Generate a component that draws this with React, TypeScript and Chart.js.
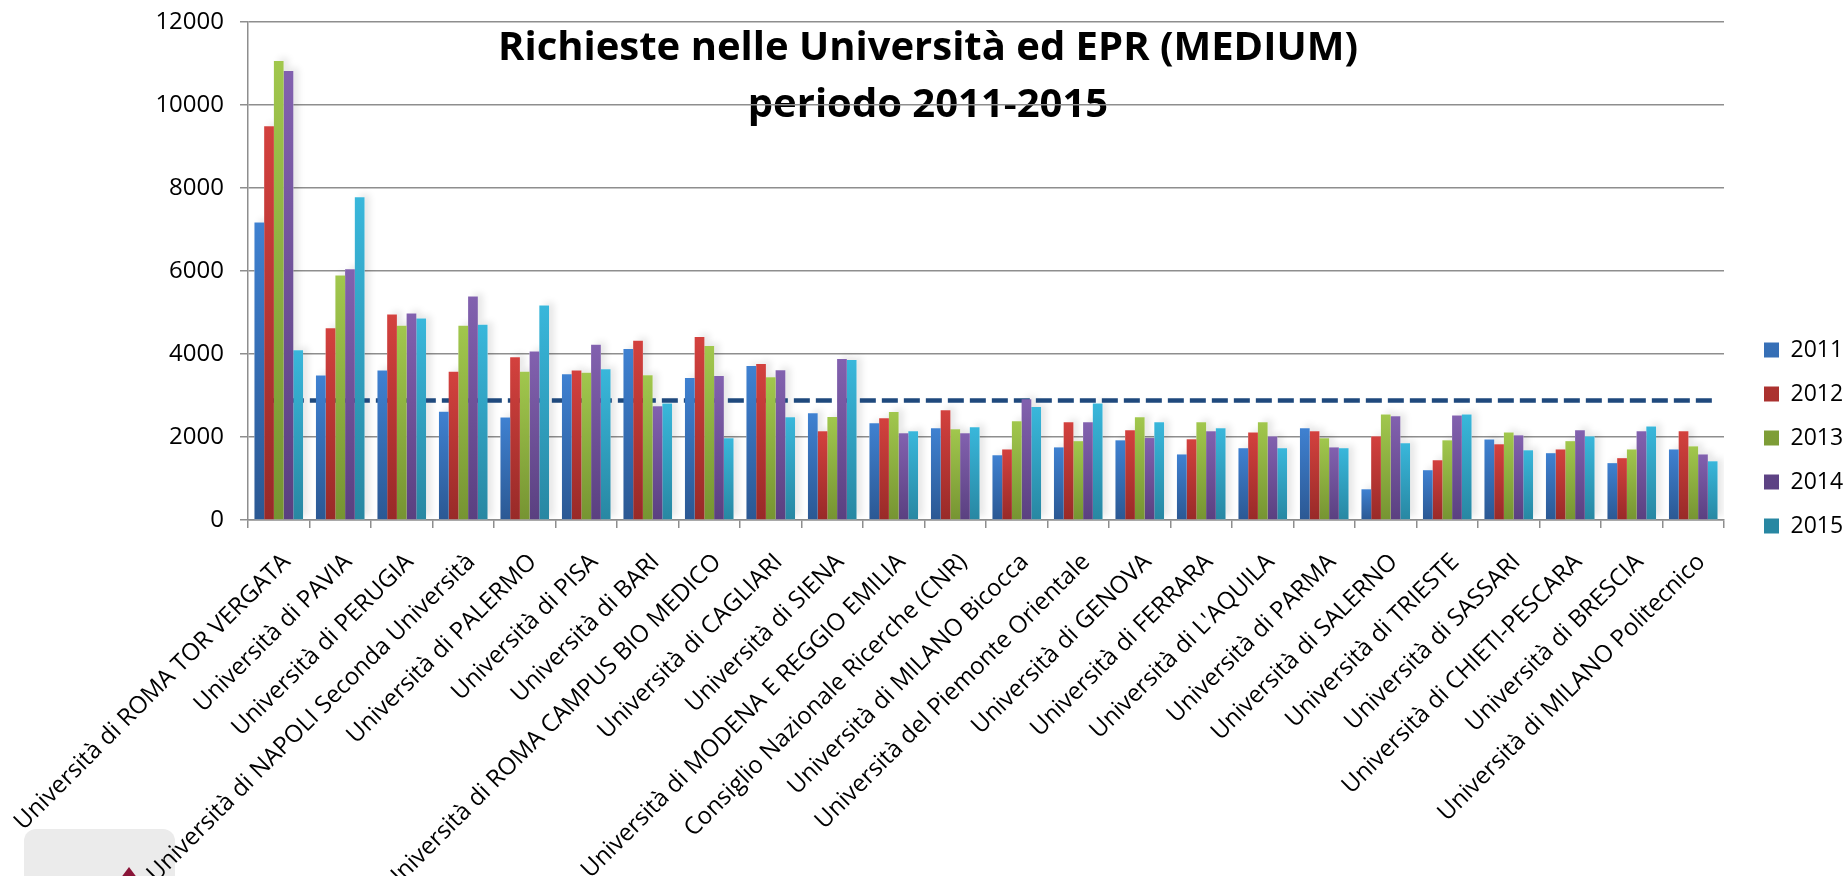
import React, { useEffect, useRef } from 'react';
import { Chart, registerables } from 'chart.js';

Chart.register(...registerables);

const CATEGORIES = [
  'Università di ROMA TOR VERGATA',
  'Università di PAVIA',
  'Università di PERUGIA',
  'Università di NAPOLI Seconda Università',
  'Università di PALERMO',
  'Università di PISA',
  'Università di BARI',
  'Università di ROMA CAMPUS BIO MEDICO',
  'Università di CAGLIARI',
  'Università di SIENA',
  'Università di MODENA E REGGIO EMILIA',
  'Consiglio Nazionale Ricerche (CNR)',
  'Università di MILANO Bicocca',
  'Università del Piemonte Orientale',
  'Università di GENOVA',
  'Università di FERRARA',
  "Università di L'AQUILA",
  'Università di PARMA',
  'Università di SALERNO',
  'Università di TRIESTE',
  'Università di SASSARI',
  'Università di CHIETI-PESCARA',
  'Università di BRESCIA',
  'Università di MILANO Politecnico',
];

const SERIES_LABELS = ['2011', '2012', '2013', '2014', '2015'];

const V2011 = [7170, 3480, 3600, 2610, 2470, 3510, 4120, 3420, 3710, 2570, 2330, 2210, 1560, 1750, 1920, 1580, 1730, 2210, 740, 1200, 1940, 1610, 1370, 1700];
const V2012 = [9490, 4620, 4950, 3570, 3920, 3600, 4320, 4410, 3760, 2140, 2450, 2645, 1700, 2355, 2160, 1945, 2110, 2140, 2016, 1440, 1825, 1700, 1490, 2140];
const V2013 = [11060, 5890, 4680, 4680, 3570, 3550, 3490, 4190, 3440, 2480, 2600, 2185, 2380, 1900, 2475, 2355, 2355, 1970, 2545, 1920, 2110, 1900, 1700, 1775];
const V2014 = [10820, 6040, 4975, 5385, 4060, 4225, 2740, 3470, 3610, 3880, 2090, 2090, 2910, 2355, 1975, 2140, 2015, 1750, 2500, 2520, 2040, 2160, 2140, 1580];
const V2015 = [4090, 7775, 4855, 4705, 5170, 3630, 2805, 1970, 2475, 3855, 2140, 2235, 2720, 2810, 2355, 2210, 1730, 1730, 1850, 2545, 1680, 2015, 2255, 1415];
const SERIES = [V2011, V2012, V2013, V2014, V2015];

// dashed reference line: value, and its extent in category-index units
const THRESHOLD = 2880;
const THRESHOLD_FROM = -0.21;
const THRESHOLD_TO = 23.4;

const Y_MIN = 0;
const Y_MAX = 12000;
const Y_STEP = 2000;

const TITLE_LINES = ['Richieste nelle Università ed EPR (MEDIUM)', 'periodo 2011-2015'];

const TOP_COLORS = ['#3f81d1', '#d3413e', '#a1c74d', '#8261af', '#39b7db'];
const BOTTOM_COLORS = ['#2b5893', '#982a28', '#769432', '#5a4080', '#2887a2'];
const SOLID_COLORS = ['#3670bf', '#c03734', '#8db040', '#6e529b', '#31a1c3'];
const GRID = '#8e8e8e';
const FONT = "'Open Sans', sans-serif";

const makeBg = (i: number) => (ctx: any) => {
  if (ctx.type !== 'data') return SOLID_COLORS[i];
  const chart = ctx.chart;
  const y = chart.scales && chart.scales.y;
  if (!y) return SOLID_COLORS[i];
  const top = y.getPixelForValue(ctx.raw as number);
  const base = y.getPixelForValue(0);
  if (!isFinite(top) || !isFinite(base) || top === base) return SOLID_COLORS[i];
  const g = chart.ctx.createLinearGradient(0, top, 0, base);
  g.addColorStop(0, TOP_COLORS[i]);
  g.addColorStop(1, BOTTOM_COLORS[i]);
  return g;
};

const titlePlugin = {
  id: 'overlayTitle',
  beforeDraw(chart: any) {
    const { ctx } = chart;
    ctx.save();
    ctx.font = `bold 40px ${FONT}`;
    ctx.fillStyle = '#000';
    ctx.textAlign = 'center';
    ctx.textBaseline = 'middle';
    TITLE_LINES.forEach((t, i) => ctx.fillText(t, 928, 49 + i * 57));
    ctx.restore();
  },
};

// soft Excel-like shadow under the bars (uses the bar elements laid out by Chart.js)
const barShadow = {
  id: 'barShadow',
  beforeDatasetsDraw(chart: any) {
    const { ctx, chartArea } = chart;
    ctx.save();
    ctx.beginPath();
    ctx.rect(chartArea.left, chartArea.top - 10, chartArea.right - chartArea.left, chartArea.bottom - chartArea.top + 10);
    ctx.clip();
    ctx.fillStyle = '#ffffff';
    ctx.shadowColor = 'rgba(0,0,0,0.10)';
    ctx.shadowBlur = 7;
    ctx.shadowOffsetX = 5;
    ctx.shadowOffsetY = -3;
    for (let d = 0; d < SERIES.length; d++) {
      const meta = chart.getDatasetMeta(d);
      meta.data.forEach((el: any) => {
        const w = el.width;
        const top = Math.min(el.y, el.base);
        const h = Math.abs(el.base - el.y);
        ctx.fillRect(el.x - w / 2, top, w, h);
      });
    }
    ctx.restore();
  },
};

const legendShift = {
  id: 'legendShift',
  afterLayout(chart: any) {
    const L = chart.legend;
    if (!L) return;
    const dx = chart.chartArea.right + 19 - L.left;
    L.left += dx;
    L.right += dx;
  },
};

export default function App() {
  const ref = useRef<HTMLCanvasElement | null>(null);

  useEffect(() => {
    if (!ref.current) return;
    Chart.defaults.font.family = FONT;
    const chart = new Chart(ref.current, {
      type: 'bar',
      data: {
        labels: CATEGORIES,
        datasets: [
          ...SERIES.map((vals, i) => ({
            type: 'bar' as const,
            label: SERIES_LABELS[i],
            data: vals,
            backgroundColor: makeBg(i),
            borderWidth: 0,
            categoryPercentage: 0.79,
            barPercentage: 1.0,
          })),
          {
            type: 'line' as const,
            label: 'soglia',
            parsing: false,
            data: [
              { x: THRESHOLD_FROM, y: THRESHOLD },
              { x: THRESHOLD_TO, y: THRESHOLD },
            ],
            borderColor: '#1f497d',
            borderWidth: 4.5,
            borderDash: [16, 6],
            pointRadius: 0,
            fill: false,
          } as any,
        ],
      },
      options: {
        responsive: true,
        maintainAspectRatio: false,
        animation: false,
        layout: { padding: 0 },
        plugins: {
          title: { display: false },
          tooltip: { enabled: false },
          legend: {
            display: true,
            position: 'right',
            align: 'center',
            labels: {
              boxWidth: 15,
              boxHeight: 15,
              padding: 21,
              color: '#000',
              font: { size: 23, family: FONT },
              filter: (item: any) => item.datasetIndex < SERIES.length,
            },
          },
        },
        scales: {
          x: {
            type: 'category',
            offset: true,
            grid: {
              offset: true,
              drawOnChartArea: false,
              drawTicks: true,
              tickLength: 8,
              color: GRID,
              lineWidth: 1.5,
            },
            border: { display: true, color: GRID, width: 1.5 },
            ticks: {
              autoSkip: false,
              minRotation: 45,
              maxRotation: 45,
              padding: 20,
              labelOffset: 8,
              color: '#000',
              font: { size: 24, family: FONT },
            },
            afterFit: (s: any) => {
              s.height = 356;
              s.paddingLeft = 0;
              s.paddingRight = 119;
            },
          },
          y: {
            min: Y_MIN,
            max: Y_MAX,
            ticks: {
              stepSize: Y_STEP,
              padding: 16,
              color: '#000',
              font: { size: 24, family: FONT },
              callback: (v: any) => String(v),
            },
            grid: { color: GRID, lineWidth: 1.5, tickLength: 8, drawTicks: true },
            border: { display: true, color: GRID, width: 1.5 },
            afterFit: (s: any) => {
              s.width = 248;
              s.paddingTop = 22;
              s.paddingBottom = 0;
            },
          },
        },
      } as any,
      plugins: [titlePlugin, barShadow, legendShift],
    });
    return () => chart.destroy();
  }, []);

  return (
    <div style={{ position: 'fixed', left: 0, top: 0, width: 1843, height: 876, background: '#fff', overflow: 'hidden' }}>
      <div
        style={{
          position: 'absolute',
          left: 24,
          top: 829,
          width: 151,
          height: 70,
          borderRadius: 12,
          background: '#ebebeb',
        }}
      >
        <div
          style={{
            position: 'absolute',
            left: 96,
            top: 38,
            width: 18,
            height: 12,
            background: '#8a1538',
            clipPath: 'polygon(50% 0, 100% 100%, 0 100%)',
          }}
        />
      </div>
      <canvas ref={ref} style={{ position: 'absolute', left: 0, top: 0, width: 1843, height: 876 }} />
    </div>
  );
}
